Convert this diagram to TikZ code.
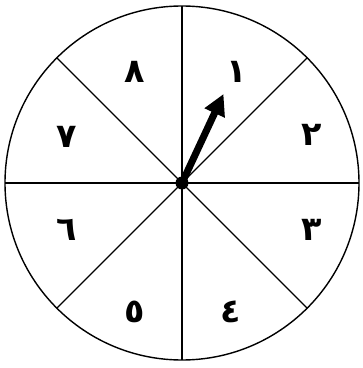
\documentclass[tikz,border=0pt]{standalone}
\usepackage{fontspec}
\newfontfamily\arabicfont[Script=Arabic]{DejaVu Sans}
\usetikzlibrary{arrows.meta}

\tikzset{
  num/.style={font=\arabicfont\bfseries\fontsize{19}{19}\selectfont},
  rim/.style={line width=0.8pt}
}

\begin{document}
\begin{tikzpicture}[>={Triangle[length=0.42cm,width=0.42cm]}]
  \useasboundingbox (-3.64,-3.70) rectangle (3.60,3.66);

  \node[circle,fill,inner sep=0pt,minimum size=0.26cm] (O) at (0,0) {};
  \coordinate (C) at (0,0);
  \draw[rim] (C) circle (3.54);

  % sector lines
  \foreach \a in {0,45,...,315}
    \draw[rim] (C) -- (\a:3.54);

  \node[num] (N1) at (1.10,2.22) {١};
  \node[num] (N2) at (2.60,0.96) {٢};
  \node[num] (N3) at (2.60,-0.94) {٣};
  \node[num] (N4) at (0.98,-2.58) {٤};
  \node[num] (N5) at (-0.94,-2.58) {٥};
  \node[num] (N6) at (-2.30,-0.94) {٦};
  \node[num] (N7) at (-2.30,0.92) {٧};
  \node[num] (N8) at (-0.94,2.22) {٨};

  % pointer
  \coordinate (T) at (0.83,1.78);
  \draw[->,line width=4pt] (C) -- (T);
\end{tikzpicture}
\end{document}
